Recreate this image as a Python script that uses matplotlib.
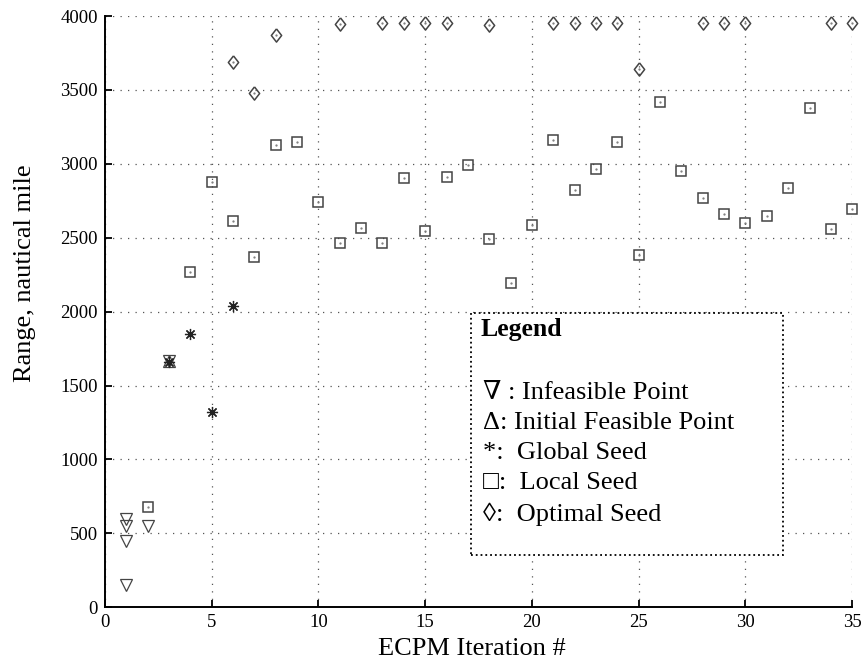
import numpy as np
import matplotlib.pyplot as plt
from matplotlib.patches import Rectangle

plt.rcParams['font.family'] = ['Liberation Serif', 'DejaVu Serif', 'DejaVu Sans']

# infeasible points (down triangles)
inf_x = [1, 1, 1, 1, 2, 3]
inf_y = [600, 550, 450, 150, 550, 1665]

# initial feasible point (up triangle)
init_x = [3]
init_y = [1665]

# global seeds (asterisk)
glob_x = [3, 4, 5, 6]
glob_y = [1660, 1848, 1320, 2038]

# local seeds (squares)
loc_x = [2, 4, 5, 6, 7, 8, 9, 10, 11, 12, 13, 14, 15, 16, 17, 18, 19, 20,
         21, 22, 23, 24, 25, 26, 27, 28, 29, 30, 31, 32, 33, 34, 35]
loc_y = [680, 2265, 2876, 2612, 2372, 3130, 3150, 2740, 2465, 2563, 2466, 2902,
         2547, 2910, 2992, 2492, 2192, 2587, 3160, 2821, 2965, 3147, 2384, 3415,
         2954, 2768, 2663, 2598, 2650, 2839, 3381, 2562, 2697]

# optimal seeds (diamonds)
opt_x = [6, 7, 8, 11, 13, 14, 15, 16, 18, 21, 22, 23, 24, 25, 28, 29, 30, 34, 35]
opt_y = [3686, 3476, 3875, 3944, 3954, 3954, 3954, 3954, 3940, 3950, 3956, 3954,
         3954, 3642, 3954, 3956, 3954, 3953, 3956]

fig = plt.figure(figsize=(8.67, 6.68), dpi=100)
ax = fig.add_axes([0.121, 0.091, 0.862, 0.885])

ec = '#444444'
diamond = [(0, 1), (0.78, 0), (0, -1), (-0.78, 0), (0, 1)]
ax.plot(inf_x, inf_y, 'v', mfc='none', mec=ec, ms=9, mew=0.9, clip_on=False)
ax.plot(init_x, init_y, '^', mfc='none', mec=ec, ms=9, mew=0.9, clip_on=False)
ax.plot(glob_x, glob_y, marker=(8, 2, 0), ls='none', color='#222222', ms=8, mew=0.9, clip_on=False)
ax.plot(loc_x, loc_y, 's', mfc='none', mec=ec, ms=6.5, mew=1.1, clip_on=False)
ax.plot(opt_x, opt_y, marker=diamond, ls='none', mfc='none', mec=ec, ms=9.5, mew=1.1, clip_on=False)
# little centre dots like the original renderer
ax.plot(loc_x + opt_x, loc_y + opt_y, '.', color='#777777', ms=1.2, clip_on=False)

ax.set_xlim(0, 35)
ax.set_ylim(0, 4000)
ax.set_xticks(np.arange(0, 36, 5))
ax.set_yticks(np.arange(0, 4001, 500))
ax.grid(True, ls=(0, (1, 5)), color='#555555', lw=0.9)
ax.set_axisbelow(True)
ax.spines['top'].set_visible(False)
ax.spines['right'].set_visible(False)
ax.spines['left'].set_linewidth(1.4)
ax.spines['bottom'].set_linewidth(1.4)
ax.tick_params(direction='in', length=5, width=1.3, labelsize=13.5, pad=5)
ax.set_xlabel('ECPM Iteration #', fontsize=19)
ax.set_ylabel('Range, nautical mile', fontsize=19)
ax.xaxis.set_label_coords(0.491, -0.052)
ax.yaxis.set_label_coords(-0.092, 0.565)

# legend box
box = Rectangle((0.49, 0.088), 0.417, 0.409, transform=ax.transAxes,
                facecolor='white', edgecolor='black', ls=':', lw=1.3, zorder=5)
ax.add_patch(box)
ax.text(0.502, 0.469, 'Legend', transform=ax.transAxes, fontsize=18.5,
        fontweight='bold', va='center', zorder=6)
items = ['\u2207 : Infeasible Point', '\u0394: Initial Feasible Point',
         '*:  Global Seed', '\u25a1:  Local Seed', '\u25ca:  Optimal Seed']
ys = [0.362, 0.311, 0.261, 0.210, 0.157]
for s, yy in zip(items, ys):
    ax.text(0.506, yy, s, transform=ax.transAxes, fontsize=19, va='center', zorder=6)

fig.savefig('out.png', dpi=100)
